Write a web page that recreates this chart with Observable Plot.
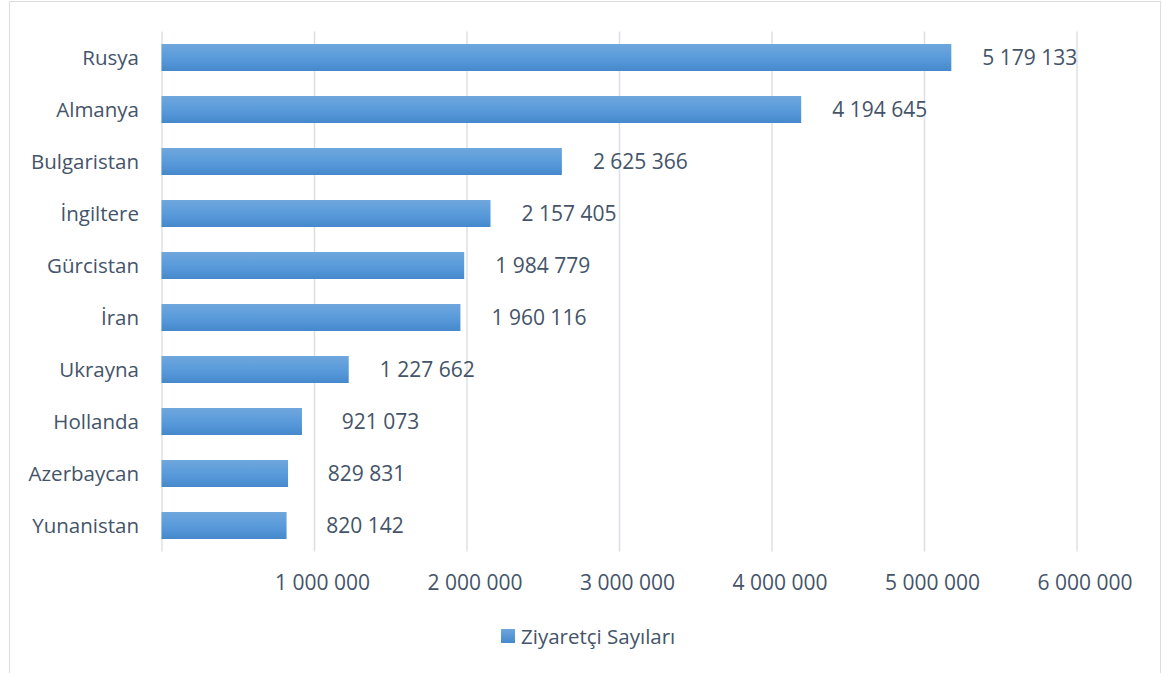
<!DOCTYPE html>
<html>
<head>
<meta charset="utf-8">
<script src="https://cdn.jsdelivr.net/npm/d3@7"></script>
<script src="https://cdn.jsdelivr.net/npm/@observablehq/plot@0.6"></script>
<style>
  html, body { margin: 0; padding: 0; background: #fff; overflow: hidden; }
  #wrap { position: relative; width: 1163px; height: 673px; font-family: "Open Sans", sans-serif; }
  #frame { position: absolute; left: 9px; top: 1px; width: 1152px; height: 720px; border: 1.5px solid #DADDE2; box-sizing: border-box; pointer-events: none; }
  #chart { position: absolute; left: 0; top: 0; }
  #legend { position: absolute; left: 501px; top: 624px; display: flex; align-items: center; font-size: 20.5px; color: #44546A; height: 24px; }
  #legend .sw { width: 14px; height: 14px; margin-right: 6px; background: linear-gradient(#6EA6DD, #4589CC); }
</style>
</head>
<body>
<div id="wrap">
  <div id="chart"></div>
  <div id="legend"><span class="sw"></span><span id="legendText"></span></div>
  <div id="frame"></div>
</div>
<script>
const countries = ["Rusya", "Almanya", "Bulgaristan", "İngiltere", "Gürcistan", "İran", "Ukrayna", "Hollanda", "Azerbaycan", "Yunanistan"];
const visitors = [5179133, 4194645, 2625366, 2157405, 1984779, 1960116, 1227662, 921073, 829831, 820142];
const xTickValues = [1000000, 2000000, 3000000, 4000000, 5000000, 6000000];
const gridValues = [0, 1000000, 2000000, 3000000, 4000000, 5000000, 6000000];
const seriesName = "Ziyaretçi Sayıları";

const data = countries.map((c, i) => ({country: c, value: visitors[i]}));
const fmt = n => d3.format(",")(n).replace(/,/g, " ");
const textColor = "#44546A";

const chart = Plot.plot({
  width: 1163,
  height: 610,
  marginLeft: 161.5,
  marginRight: 86.5,
  marginTop: 31.5,
  marginBottom: 58.5,
  style: {fontFamily: "'Open Sans', sans-serif", fontSize: "20.5px", color: textColor, background: "transparent", overflow: "visible"},
  x: {domain: [0, 6000000]},
  y: {domain: countries, paddingInner: 0.48, paddingOuter: 0.24},
  marks: [
    Plot.ruleX(gridValues, {stroke: "#DCE0E6", strokeWidth: 1.5, strokeOpacity: 1}),
    Plot.barX(data, {x: "value", y: "country", fill: "url(#barGrad)"}),
    Plot.text(data, {x: "value", y: "country", text: d => fmt(d.value), textAnchor: "middle", dx: 78, fill: textColor, fontSize: 21}),
    Plot.axisX({ticks: xTickValues, tickFormat: fmt, tickSize: 0, tickPadding: 23, dx: 8, label: null, fontSize: 21, fill: textColor}),
    Plot.axisY({tickSize: 0, tickPadding: 23, label: null, fontSize: 20.5, fill: textColor})
  ]
});

const ns = "http://www.w3.org/2000/svg";
const defs = document.createElementNS(ns, "defs");
const grad = document.createElementNS(ns, "linearGradient");
grad.setAttribute("id", "barGrad");
grad.setAttribute("x1", "0"); grad.setAttribute("y1", "0");
grad.setAttribute("x2", "0"); grad.setAttribute("y2", "1");
[["0%", "#6FA7DD"], ["50%", "#5A9BDB"], ["100%", "#4589CC"]].forEach(([o, c]) => {
  const s = document.createElementNS(ns, "stop");
  s.setAttribute("offset", o); s.setAttribute("stop-color", c);
  grad.appendChild(s);
});
defs.appendChild(grad);
chart.insertBefore(defs, chart.firstChild);

document.getElementById("chart").appendChild(chart);
document.getElementById("legendText").textContent = seriesName;
</script>
</body>
</html>
